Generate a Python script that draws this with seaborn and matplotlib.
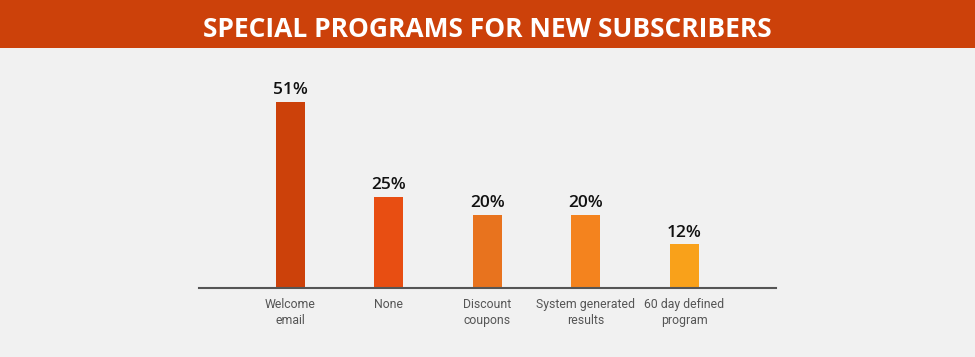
import matplotlib
matplotlib.use("Agg")
import matplotlib.pyplot as plt
import seaborn as sns
import pandas as pd
from matplotlib.patches import Rectangle

categories = ["Welcome\nemail", "None", "Discount\ncoupons", "System generated\nresults", "60 day defined\nprogram"]
values = [51, 25, 20, 20, 12]
labels = ["51%", "25%", "20%", "20%", "12%"]
colors = ["#CC410A", "#E84E12", "#E8731E", "#F4831E", "#F9A11A"]
title = "SPECIAL PROGRAMS FOR NEW SUBSCRIBERS"

sns.set_theme(style="white")
plt.rcParams['font.family'] = ['Open Sans', 'DejaVu Sans']

W, H = 975, 357
fig = plt.figure(figsize=(W/100, H/100), dpi=100, facecolor="#F1F1F1")
ax = fig.add_axes([199/W, 69/H, (776-199)/W, 219/H])
ax.set_facecolor("#F1F1F1")

df = pd.DataFrame({"cat": categories, "val": values})
sns.barplot(data=df, x="cat", y="val", hue="cat", palette=colors, legend=False,
            width=0.295, ax=ax, saturation=1, linewidth=0, edgecolor="none")

ax.set_xlim(-0.924, 4.93)
ax.set_ylim(0, 60)
for i, (v, l) in enumerate(zip(values, labels)):
    ax.text(i, v + 1.0, l, ha="center", va="bottom", fontsize=12.5,
            fontweight="semibold", color="#111111")

for s in ["top", "right", "left"]:
    ax.spines[s].set_visible(False)
ax.spines["bottom"].set_color("#555555")
ax.spines["bottom"].set_linewidth(1.5)
ax.set_yticks([])
ax.set_xlabel("")
ax.set_ylabel("")
ax.tick_params(axis="x", length=0, pad=7, labelsize=8.8, labelcolor="#555555")
for t in ax.get_xticklabels():
    t.set_linespacing(1.3)
    t.set_family(['Roboto', 'DejaVu Sans'])

fig.patches.append(Rectangle((0, 1 - 48/H), 1, 48/H, transform=fig.transFigure,
                             facecolor="#CC410A", edgecolor="none", zorder=0))
fig.text(0.5, 1 - 37/H, title, ha="center", va="baseline", color="white",
         fontsize=19, fontweight="bold")

fig.savefig("out.png", dpi=100, facecolor=fig.get_facecolor())
